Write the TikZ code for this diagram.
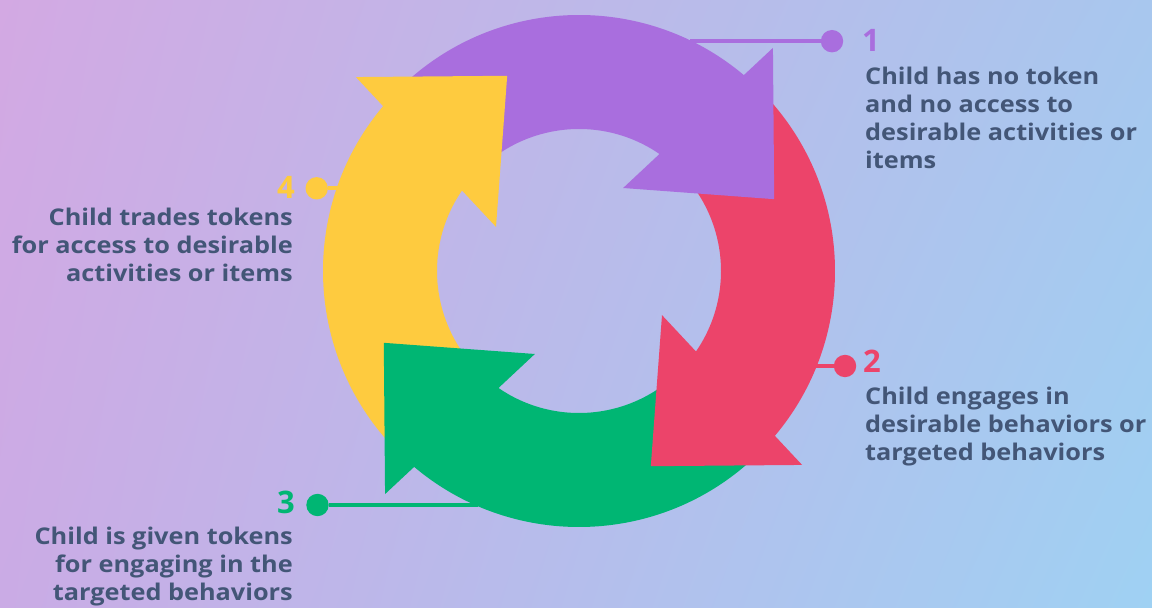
\documentclass[tikz,border=0pt]{standalone}
\usepackage{fontspec}
\usetikzlibrary{shadings}
\setmainfont{Open Sans}
\definecolor{cPurple}{HTML}{A96EDE}
\definecolor{cRed}{HTML}{EC446A}
\definecolor{cGreen}{HTML}{00B673}
\definecolor{cYellow}{HTML}{FECB3F}
\definecolor{cText}{HTML}{435677}
\definecolor{bgUL}{HTML}{D3A9E3}
\definecolor{bgUR}{HTML}{A8C7EE}
\definecolor{bgLL}{HTML}{CAABE5}
\definecolor{bgLR}{HTML}{9FD1F3}
\begin{document}
\begin{tikzpicture}[x=1pt,y=1pt,
  lbl/.style={font=\fontsize{23}{28}\selectfont\bfseries\addfontfeature{FakeStretch=1.1}, text=cText, inner sep=0pt},
  num/.style={font=\fontsize{31}{31}\selectfont\bfseries, inner sep=0pt},
  dot/.style={circle, fill=#1, minimum size=22.4pt, inner sep=0pt},
  link/.style={draw=#1, line width=4pt}]
\useasboundingbox (0,0) rectangle (1152,608);
\shade[upper left=bgUL, upper right=bgUR, lower left=bgLL, lower right=bgLR] (0,0) rectangle (1152,608);
\coordinate (C) at (579,337);
% ring bodies
\foreach \col/\rot in {cPurple/0, cRed/-90, cGreen/-180, cYellow/-270} {
  \begin{scope}[shift={(C)}, rotate=\rot]
    \fill[\col] (135:256) arc[start angle=135, end angle=47, radius=256]
      -- (52:142) arc[start angle=52, end angle=135, radius=142] -- cycle;
  \end{scope}
}
% arrow heads
\foreach \col/\rot in {cPurple/0, cRed/-90, cGreen/-180, cYellow/-270} {
  \begin{scope}[shift={(C)}, rotate=\rot]
    \fill[\col] (49:295.6) -- (20.2:208) -- (62:94) -- cycle;
  \end{scope}
}
% connectors and dots
\coordinate (r1) at (690,566.8);
\coordinate (r2) at (815,242);
\coordinate (r3) at (478,103);
\coordinate (r4) at (338,419.7);
\node[dot=cPurple] (d1) at (832,566.8) {};
\node[dot=cRed] (d2) at (845,242) {};
\node[dot=cGreen] (d3) at (317.5,103) {};
\node[dot=cYellow] (d4) at (316.7,419.7) {};
\draw[link=cPurple] (r1) -- (d1);
\draw[link=cRed] (r2) -- (d2);
\draw[link=cGreen] (r3) -- (d3);
\draw[link=cYellow] (r4) -- (d4);
% numbers
\node[num, text=cPurple, anchor=base west] (n1) at (862,556.3) {1};
\node[num, text=cRed, anchor=base west] (n2) at (863,235) {2};
\node[num, text=cGreen, anchor=base east] (n3) at (295,94.7) {3};
\node[num, text=cYellow, anchor=base east] (n4) at (295,409.7) {4};
% labels (base = last line)
\node[lbl, anchor=base west, align=left] (t1) at (865,439.7)
  {Child has no token\\and no access to\\desirable activities or\\items};
\node[lbl, anchor=base west, align=left] (t2) at (865,147.3)
  {Child engages in\\desirable behaviors or\\targeted behaviors};
\node[lbl, anchor=base east, align=right] (t3) at (293,7.5)
  {Child is given tokens\\for engaging in the\\targeted behaviors};
\node[lbl, anchor=base east, align=right] (t4) at (293,326.3)
  {Child trades tokens\\for access to desirable\\activities or items};
\end{tikzpicture}
\end{document}
